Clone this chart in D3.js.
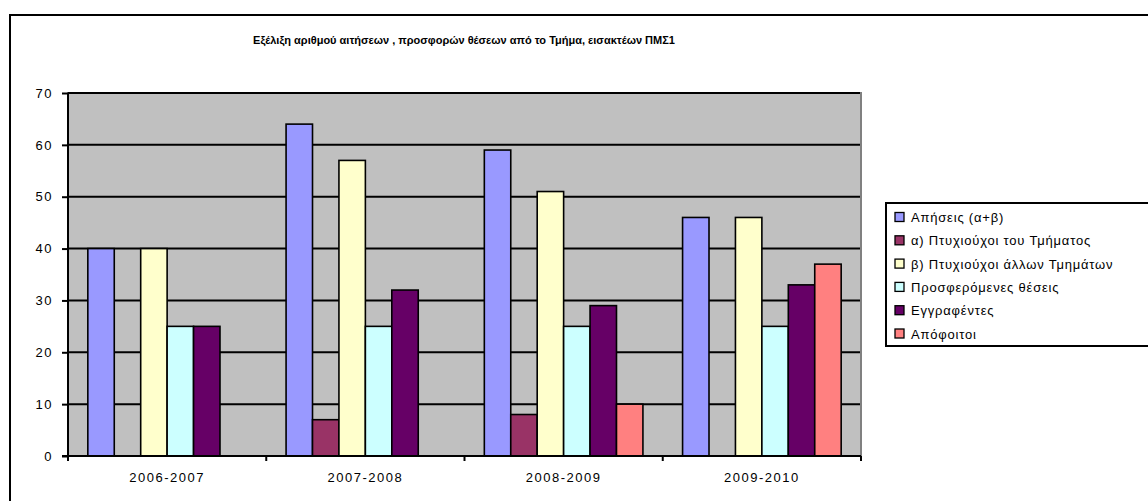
<!DOCTYPE html>
<html><head><meta charset="utf-8">
<script src="https://cdn.jsdelivr.net/npm/d3@7/dist/d3.min.js"></script>
<style>body{margin:0;background:#fff}svg{display:block;font-family:"Liberation Sans",Arial,sans-serif}</style>
</head><body><svg id="c" width="1148" height="501"></svg>
<script>
const categories = ["2006-2007","2007-2008","2008-2009","2009-2010"];
const seriesNames = ["Απήσεις (α+β)","α) Πτυχιούχοι του Τμήματος","β) Πτυχιούχοι άλλων Τμημάτων","Προσφερόμενες θέσεις","Εγγραφέντες","Απόφοιτοι"];
const aitiseis = [40,64,59,46];
const ptyxiouxoiTmimatos = [0,7,8,0];
const ptyxiouxoiAllon = [40,57,51,46];
const prosferomenes = [25,25,25,25];
const eggrafentes = [25,32,29,33];
const apofoitoi = [0,0,10,37];
const yTicks = [0,10,20,30,40,50,60,70];
const colors = ["#9999FF","#993366","#FFFFCC","#CCFFFF","#660066","#FF8080"];
const seriesValues = [aitiseis,ptyxiouxoiTmimatos,ptyxiouxoiAllon,prosferomenes,eggrafentes,apofoitoi];

const svg = d3.select("#c");
svg.append("rect").attr("x",10).attr("y",15).attr("width",1200).attr("height",600)
  .attr("fill","#fff").attr("stroke","#000").attr("stroke-width",2);

const L=68,R=861,T=93,B=456;
const groupW = (R-L)/categories.length;
const barW = groupW/7.5;
const x = d3.scaleBand().domain(d3.range(6)).range([0,barW*6]);
const y = d3.scaleLinear().domain([0,70]).range([B,T]);

svg.append("text").attr("x",464).attr("y",44).attr("text-anchor","middle")
  .attr("font-size",11).attr("font-weight","bold")
  .text("Εξέλιξη αριθμού αιτήσεων , προσφορών  θέσεων  από το Τμήμα, εισακτέων  ΠΜΣ1");

svg.append("rect").attr("x",L).attr("y",T).attr("width",R-L).attr("height",B-T)
  .attr("fill","#C0C0C0").attr("stroke","#808080").attr("stroke-width",2);

svg.append("g").selectAll("line").data(yTicks.slice(1)).join("line")
  .attr("x1",L).attr("x2",R-1).attr("y1",d=>y(d)).attr("y2",d=>y(d))
  .attr("stroke","#000").attr("stroke-width",2);

const groups = svg.append("g").selectAll("g").data(categories).join("g")
  .attr("transform",(d,i)=>`translate(${L+i*groupW+barW*0.75},0)`);
groups.selectAll("rect").data((c,i)=>seriesValues.map((s,j)=>({j,v:s[i]}))).join("rect")
  .filter(d=>d.v>0)
  .attr("x",d=>x(d.j)).attr("width",barW).attr("y",d=>y(d.v)).attr("height",d=>B-y(d.v))
  .attr("fill",d=>colors[d.j]).attr("stroke","#000").attr("stroke-width",1.6);

const ya = svg.append("g").attr("transform",`translate(${L},0)`)
  .call(d3.axisLeft(y).tickValues(yTicks).tickSize(6).tickPadding(9));
ya.selectAll("path,line").attr("stroke","#000").attr("stroke-width",2);
ya.select(".domain").attr("d",`M0,${T}V${B}`);
ya.selectAll("text").attr("font-size",13).attr("letter-spacing",1.5)
  .attr("font-family","Liberation Sans, Arial").attr("fill","#000");

const bounds = d3.range(categories.length+1).map(i=>L+i*groupW);
svg.append("line").attr("x1",L-6).attr("x2",R).attr("y1",B).attr("y2",B).attr("stroke","#000").attr("stroke-width",2);
svg.append("g").selectAll("line").data(bounds).join("line")
  .attr("x1",d=>d).attr("x2",d=>d).attr("y1",B).attr("y2",B+5).attr("stroke","#000").attr("stroke-width",2);
svg.append("g").selectAll("text").data(categories).join("text")
  .attr("x",(d,i)=>L+(i+0.5)*groupW).attr("y",482).attr("text-anchor","middle")
  .attr("font-size",13).attr("letter-spacing",1.5).text(d=>d);

svg.append("rect").attr("x",886).attr("y",203).attr("width",300).attr("height",143)
  .attr("fill","#fff").attr("stroke","#000").attr("stroke-width",2);
const lg = svg.append("g").selectAll("g").data(seriesNames).join("g")
  .attr("transform",(d,i)=>`translate(895,${217+i*23.3})`);
lg.append("rect").attr("x",0).attr("y",-4.5).attr("width",9).attr("height",9)
  .attr("fill",(d,i)=>colors[i]).attr("stroke","#000").attr("stroke-width",1.3);
lg.append("text").attr("x",16).attr("y",5).attr("font-size",13).attr("letter-spacing",0.8).text(d=>d);
</script></body></html>
